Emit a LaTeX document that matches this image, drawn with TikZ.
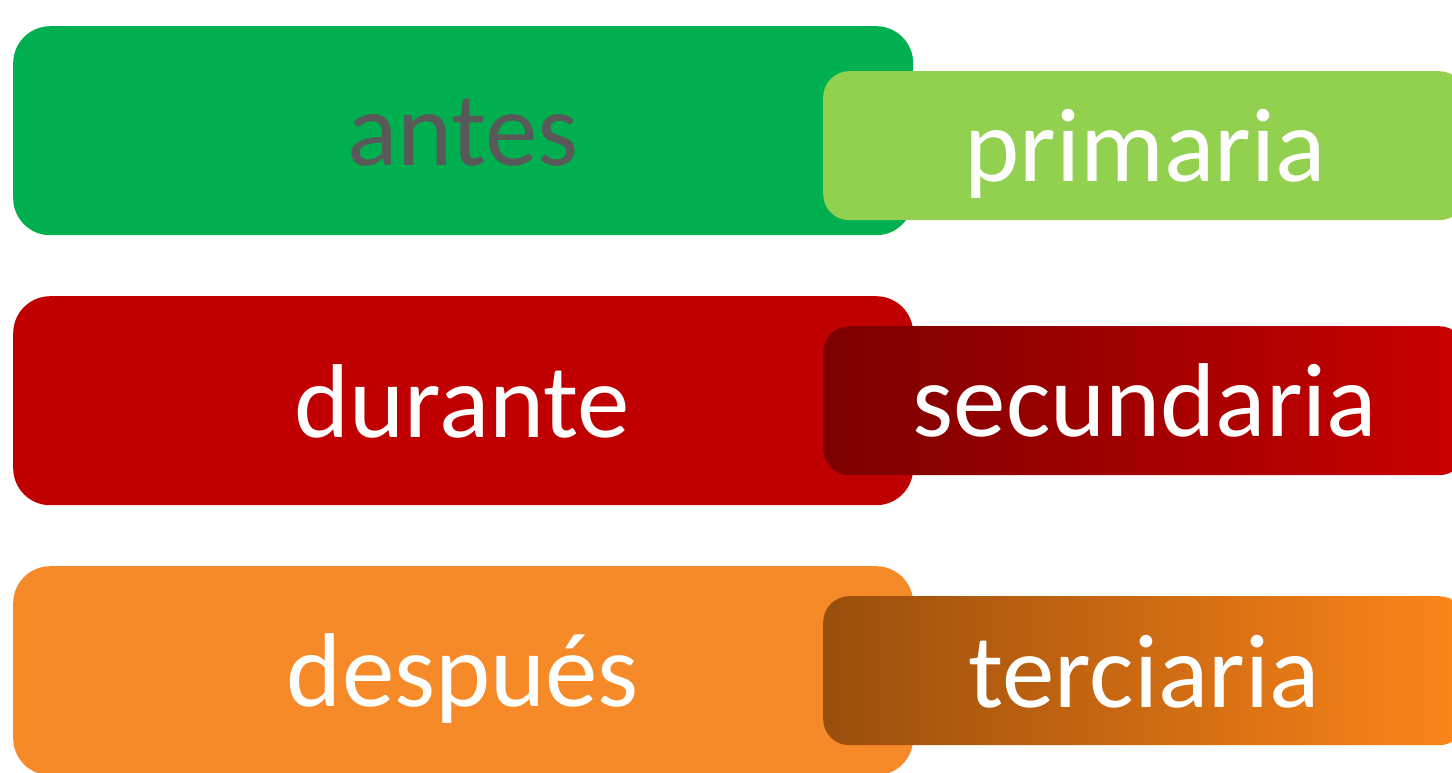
\documentclass[tikz,border=0pt]{standalone}
\usepackage{fontspec}
\setmainfont{Carlito}
\definecolor{cgreen}{RGB}{0,176,80}
\definecolor{clgreen}{RGB}{146,208,80}
\definecolor{cred}{RGB}{192,0,0}
\definecolor{cdred}{RGB}{124,0,0}
\definecolor{crred}{RGB}{202,0,0}
\definecolor{corange}{RGB}{246,138,41}
\definecolor{cdorange}{RGB}{154,78,12}
\definecolor{crorange}{RGB}{254,134,26}
\definecolor{cgray}{RGB}{89,89,89}
\tikzset{
  bigbox/.style={draw=none, rounded corners=37pt, minimum width=900pt, minimum height=209pt, inner sep=0pt, anchor=north west},
  smallbox/.style={draw=none, rounded corners=26pt, minimum width=642pt, minimum height=149pt, inner sep=0pt, anchor=north west},
  lbl/.style={font=\fontsize{105}{120}\selectfont, text=white, anchor=base, inner sep=0pt}
}
\begin{document}
\begin{tikzpicture}[x=1pt,y=-1pt]
\useasboundingbox (0,0) rectangle (1452,773);
\clip (0,0) rectangle (1452,773);
% row 1
\node[bigbox, fill=cgreen] (b1) at (13,26) {};
\node[lbl, text=cgray] (t1) at (463,166) {antes};
\node[smallbox, fill=clgreen] (s1) at (823,71) {};
\node[lbl] (u1) at (1145,182) {primaria};
% row 2
\node[bigbox, fill=cred] (b2) at (13,296) {};
\node[lbl] (t2) at (462,437) {durante};
\node[smallbox, left color=cdred, right color=crred] (s2) at (823,326) {};
\node[lbl] (u2) at (1145,436) {secundaria};
% row 3
\node[bigbox, fill=corange] (b3) at (13,566) {};
\node[lbl] (t3) at (463,706) {después};
\node[smallbox, left color=cdorange, right color=crorange] (s3) at (823,596) {};
\node[lbl] (u3) at (1144,707) {terciaria};
\end{tikzpicture}
\end{document}
